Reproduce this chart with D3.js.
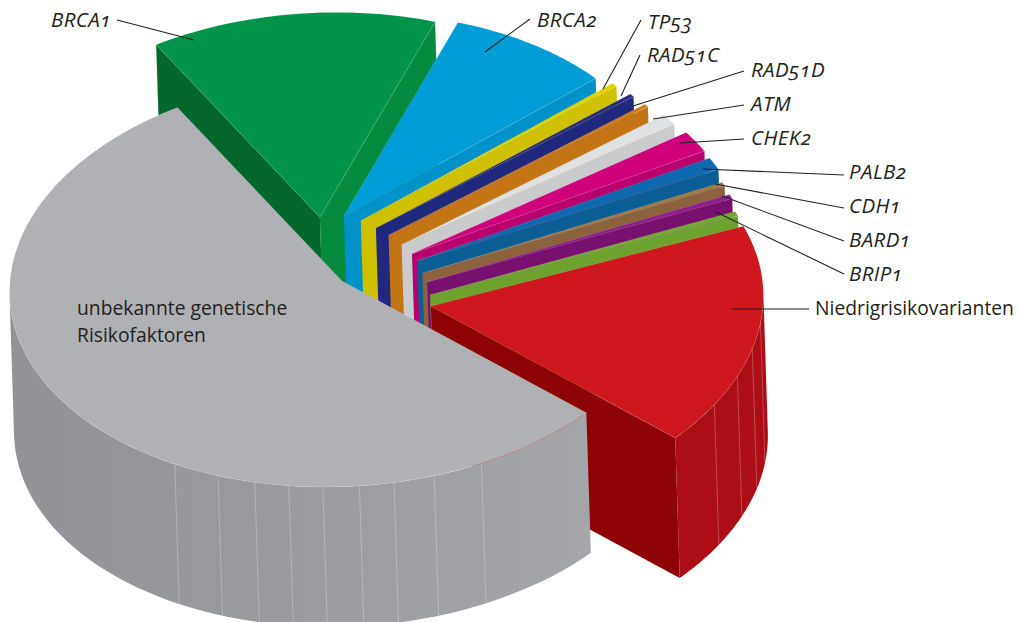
<!DOCTYPE html>
<html lang="de">
<head>
<meta charset="utf-8">
<title>Genetische Risikofaktoren</title>
<script src="https://cdn.jsdelivr.net/npm/d3@7"></script>
<style>
  html, body { margin: 0; padding: 0; background: #fff; }
  svg { display: block; }
  text { font-family: "Open Sans", sans-serif; fill: #231f20; font-variant-numeric: oldstyle-nums; }
  .gene { font-style: italic; font-size: 20.5px; letter-spacing: 0.4px; }
  .plain { font-size: 19.3px; }
</style>
</head>
<body>
<svg id="chart" width="1018" height="622"></svg>
<script>
// Share of each risk factor, in percent, clockwise from the grey slice.
const categories = ["unbekannte genetische Risikofaktoren", "BRCA1", "BRCA2", "TP53", "RAD51C", "RAD51D",
  "ATM", "CHEK2", "PALB2", "CDH1", "BARD1", "BRIP1", "Niedrigrisikovarianten"];
const shares = [54.9, 13.9, 8.3, 0.3, 0.25, 0.25, 0.9, 1.75, 1.0, 0.3, 0.35, 0.4, 17.4];

// Colours per slice: top face, and the straight wall facing the viewer.
const topColors = ["#b0b1b5", "#00934a", "#009dd6", "#e0d200", "#252b85", "#d07f18", "#dfe0e1",
  "#d0007c", "#0f69ae", "#a17844", "#8f1d8e", "#72a833", "#cf171e"];
const wallColors = ["#a0a1a4", "#058a3f", "#0092c8", "#cfc000", "#20287e", "#c37414", "#cacbcd",
  "#b8006e", "#0b5e96", "#8b623c", "#78106f", "#6ea22e", "#8e0304"];
const greenBackWall = "#05662e";
const redRimColor = "#ad0d14";

// How far each slice is pulled out of the pie: distance (in radii) and direction (degrees).
const explodeDist = [0, 0.32, 0.316, 0.295, 0.272, 0.257, 0.245, 0.243, 0.242, 0.243, 0.257, 0.277, 0.30];
const explodeDir = [0, 258, 271, 281, 292, 303, 317, 330, 339, 354, 4, 17, 27];
// Outer radius of each slice relative to the disc.
const radii = [1, 0.995, 0.985, 0.985, 0.98, 0.975, 0.985, 0.99, 0.99, 0.985, 0.985, 0.985, 1];

// Seams of the faceted outer rim (degrees on the disc).
const greyRimSeams = [120.2, 111.9, 105.2, 99.2, 93.3, 87, 81, 73.9, 65.2];
const redRimSeams = [31.5, 22.8, 14.8, 7.6];

// Label placement with the leader line: text anchor, then line start and end.
const labels = [
  { text: "BRCA1", x: 51, y: 27, line: [117, 20, 194, 40] },
  { text: "BRCA2", x: 537, y: 27, line: [530, 19, 485, 52] },
  { text: "TP53", x: 648, y: 29, line: [641, 20, 603, 89] },
  { text: "RAD51C", x: 647, y: 62, line: [640, 55, 621, 96] },
  { text: "RAD51D", x: 751, y: 77, line: [744, 71, 633, 106] },
  { text: "ATM", x: 751, y: 111, line: [744, 105, 653, 119] },
  { text: "CHEK2", x: 751, y: 145, line: [744, 139, 680, 143] },
  { text: "PALB2", x: 849, y: 179, line: [844, 175, 703, 169] },
  { text: "CDH1", x: 849, y: 213, line: [844, 208, 715, 184] },
  { text: "BARD1", x: 849, y: 247, line: [844, 241, 722, 196] },
  { text: "BRIP1", x: 849, y: 281, line: [844, 274, 716, 212] }
];
const plainLabels = [
  { text: "Niedrigrisikovarianten", x: 815, y: 315 },
  { text: "unbekannte genetische", x: 77, y: 315 },
  { text: "Risikofaktoren", x: 77, y: 342 }
];
const plainLeader = [809, 309, 732, 309];

const rad = d => d * Math.PI / 180;

// Oblique projection of the disc onto the page.
const centre = [342, 281];
const axisU = [332.5, -10.5];
const axisV = [0, 205.7];
const depth = [4.5, 140];
const project = (a, r, o) => [
  o[0] + r * (Math.cos(a) * axisU[0] + Math.sin(a) * axisV[0]),
  o[1] + r * (Math.cos(a) * axisU[1] + Math.sin(a) * axisV[1])
];
const lower = p => [p[0] + depth[0], p[1] + depth[1]];

const pie = d3.pie().sort(null).value(d => d)
  .startAngle(rad(132.7)).endAngle(rad(132.7 + 360));
// d3.pie measures from twelve o'clock; the projection measures from three o'clock.
const arcs = pie(shares).map((d, i) => {
  const a0 = d.startAngle - Math.PI / 2, a1 = d.endAngle - Math.PI / 2;
  return { i, a0, a1, r: radii[i], apex: project(rad(explodeDir[i]), explodeDist[i], centre) };
});

const svg = d3.select("#chart");
const line = d3.line();
const closed = pts => line(pts) + "Z";
const sampleArc = (a0, a1, r, apex) =>
  d3.range(0, 61).map(k => project(a0 + (a1 - a0) * k / 60, r, apex));

const defs = svg.append("defs");
const rimGradient = defs.append("linearGradient").attr("id", "greyRim")
  .attr("gradientUnits", "userSpaceOnUse").attr("x1", 10).attr("x2", 592).attr("y1", 0).attr("y2", 0);
rimGradient.append("stop").attr("offset", 0).attr("stop-color", "#929396");
rimGradient.append("stop").attr("offset", 0.35).attr("stop-color", "#98999c");
rimGradient.append("stop").attr("offset", 1).attr("stop-color", "#a5a6a9");

// The arc range whose rim faces the viewer, in radians on the full circle.
const rimStart = rad(-1), rimEnd = rad(179);
function rimRange(a0, a1) {
  for (const shift of [0, 2 * Math.PI, -2 * Math.PI]) {
    const s = Math.max(a0, rimStart + shift), e = Math.min(a1, rimEnd + shift);
    if (e > s) return [s, e];
  }
  return null;
}

// Painted back to front: the grey slice closes the stack in the foreground.
const paintOrder = d3.range(1, arcs.length).concat([0]);
paintOrder.forEach(idx => {
  const s = arcs[idx];
  const g = svg.append("g").attr("class", "slice");
  const startP = project(s.a0, s.r, s.apex), endP = project(s.a1, s.r, s.apex);

  // Straight walls, only those turned towards the viewer.
  if (Math.sin(s.a1 + Math.PI / 2) > 0) {
    g.append("path").attr("fill", wallColors[idx])
      .attr("d", closed([s.apex, endP, lower(endP), lower(s.apex)]));
  }
  if (Math.sin(s.a0 - Math.PI / 2) > 0) {
    g.append("path").attr("fill", idx === 1 ? greenBackWall : wallColors[idx])
      .attr("d", closed([s.apex, startP, lower(startP), lower(s.apex)]));
  }

  // Curved outer rim with its facet seams.
  const range = rimRange(s.a0, s.a1);
  if (range) {
    const top = sampleArc(range[0], range[1], s.r, s.apex);
    g.append("path")
      .attr("fill", idx === 0 ? "url(#greyRim)" : idx === 12 ? redRimColor : wallColors[idx])
      .attr("d", closed(top.concat(top.map(lower).reverse())));
    const seams = idx === 0 ? greyRimSeams : idx === 12 ? redRimSeams : [];
    seams.forEach(sd => {
      const p = project(rad(sd), s.r, s.apex), q = lower(p);
      g.append("path").attr("d", line([p, q])).attr("fill", "none")
        .attr("stroke", "#e8e8ea").attr("stroke-opacity", idx === 0 ? 0.4 : 0.35).attr("stroke-width", 0.8);
    });
  }

  // Top face.
  const topFace = [s.apex].concat(sampleArc(s.a0, s.a1, s.r, s.apex));
  g.append("path").attr("fill", topColors[idx]).attr("d", closed(topFace))
    .attr("stroke", "#ffffff").attr("stroke-opacity", 0.2).attr("stroke-width", 0.5);

  // The corner of the red slice shows faintly through the rim of the grey one.
  if (idx === 0) {
    g.append("path").attr("fill", "none").attr("stroke", "#c58a8f").attr("stroke-width", 0.7)
      .attr("d", line(sampleArc(s.a0, rad(65.2), s.r, s.apex)));
  }
});

// Leader lines and labels.
const lines = labels.map(d => d.line).concat([plainLeader]);
svg.append("g").attr("class", "leaders").selectAll("path").data(lines).join("path")
  .attr("d", d => line([[d[0], d[1]], [d[2], d[3]]]))
  .attr("fill", "none").attr("stroke", "#231f20").attr("stroke-width", 1.1);
svg.append("g").selectAll("text").data(labels).join("text").attr("class", "gene")
  .attr("x", d => d.x).attr("y", d => d.y).text(d => d.text);
svg.append("g").selectAll("text").data(plainLabels).join("text").attr("class", "plain")
  .attr("x", d => d.x).attr("y", d => d.y).text(d => d.text);
</script>
</body>
</html>
